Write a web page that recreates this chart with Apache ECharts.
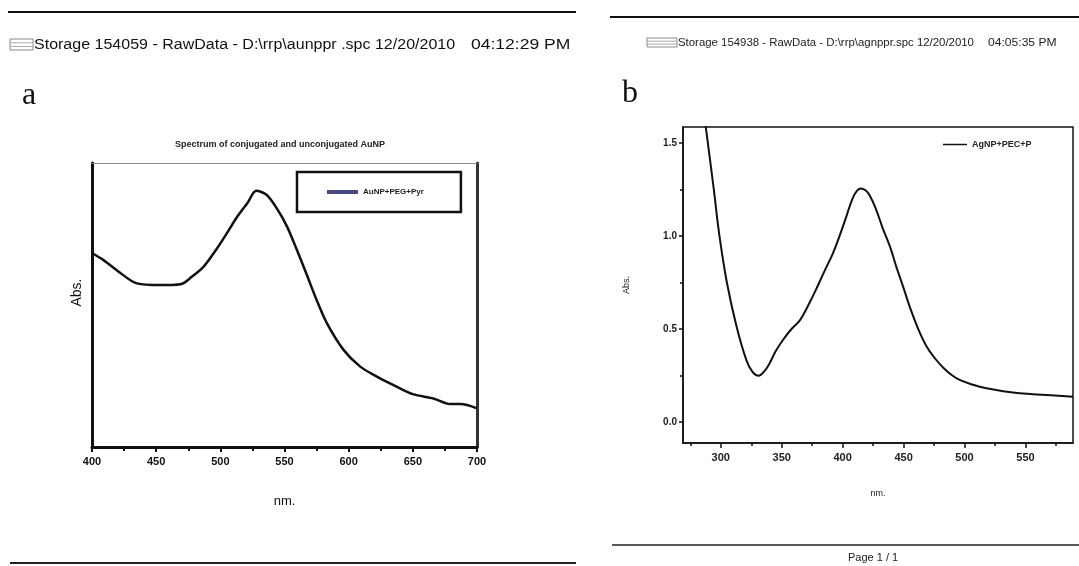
<!DOCTYPE html>
<html><head><meta charset="utf-8">
<script src="https://cdn.jsdelivr.net/npm/echarts@6/dist/echarts.min.js"></script>
<style>html,body{margin:0;padding:0;background:#fff}#c{width:1079px;height:566px}</style>
</head><body><div id="c"></div>
<script>
// Panel a: AuNP+PEG+Pyr (no y tick values shown; relative absorbance)
const aWavelength = [400, 409, 420, 435, 453, 469, 478, 487, 496, 505, 513, 521, 528, 536, 544, 552, 560, 567, 575, 583, 596, 609, 622, 635, 650, 666, 679, 687, 700];
const aAbs = [0.683, 0.658, 0.62, 0.576, 0.570, 0.573, 0.60, 0.635, 0.69, 0.752, 0.81, 0.858, 0.902, 0.888, 0.84, 0.776, 0.69, 0.611, 0.518, 0.436, 0.342, 0.283, 0.248, 0.218, 0.186, 0.171, 0.151, 0.151, 0.136];
const aTicks = [400, 450, 500, 550, 600, 650, 700];
// Panel b: AgNP+PEC+P
const bWavelength = [284, 288, 294, 299, 305, 313, 321, 326, 331, 336, 340, 345, 351, 358, 365, 372, 378, 385, 392, 398, 403, 408, 412, 415, 419, 422, 427, 433, 439, 444, 450, 455, 462, 469, 476, 483, 490, 496, 507, 518, 532, 545, 567, 589];
const bAbs = [1.77, 1.57, 1.265, 0.996, 0.75, 0.512, 0.333, 0.27, 0.249, 0.275, 0.315, 0.38, 0.441, 0.50, 0.548, 0.63, 0.71, 0.81, 0.907, 1.01, 1.104, 1.2, 1.245, 1.256, 1.245, 1.22, 1.15, 1.04, 0.94, 0.835, 0.72, 0.62, 0.50, 0.405, 0.34, 0.289, 0.25, 0.226, 0.20, 0.181, 0.165, 0.154, 0.145, 0.136];
const bXTicks = [300, 350, 400, 450, 500, 550];
const bXMinor = [275, 325, 375, 425, 475, 525, 575];
const bYTicks = [0, 0.5, 1.0, 1.5];
const bYMinor = [0.25, 0.75, 1.25];

const seriesA = 'AuNP+PEG+Pyr';
const seriesB = 'AgNP+PEC+P';
const headerA1 = 'Storage 154059 - RawData - D:\\rrp\\aunppr .spc 12/20/2010';
const headerA2 = '04:12:29 PM';
const headerB1 = 'Storage 154938 - RawData - D:\\rrp\\agnppr.spc 12/20/2010';
const headerB2 = '04:05:35 PM';
const titleA = 'Spectrum of conjugated and unconjugated AuNP';

const FONT = 'Liberation Sans, Arial, sans-serif';
const chart = echarts.init(document.getElementById('c'));

function icon(x, y, w, h) {
  return [
    {type:'rect', shape:{x:x, y:y, width:w, height:h}, style:{fill:'none', stroke:'#888', lineWidth:1}},
    {type:'line', shape:{x1:x, y1:y+h*0.35, x2:x+w, y2:y+h*0.35}, style:{stroke:'#aaa', lineWidth:1}},
    {type:'line', shape:{x1:x, y1:y+h*0.68, x2:x+w, y2:y+h*0.68}, style:{stroke:'#aaa', lineWidth:1}}
  ];
}
function htext(x, y, sx, text, size, color) {
  return {type:'text', x:x, y:y, scaleX:sx,
    style:{text:text, font: size + 'px ' + FONT, fill:color, verticalAlign:'middle', textVerticalAlign:'middle'}};
}

chart.setOption({
  backgroundColor: '#fff',
  animation: false,
  title: [{
    text: titleA, left: 275, top: 135, textAlign: 'center',
    textStyle: {fontFamily: FONT, fontSize: 9, fontWeight: 'bold', color: '#222'}
  }],
  legend: [{
    data: [{name: seriesA, itemStyle: {color: '#4a4a82'}}],
    left: 297, top: 172, orient: 'horizontal',
    icon: 'rect', itemWidth: 31, itemHeight: 4, itemGap: 0,
    padding: [16, 37, 16, 30],
    borderColor: '#111', borderWidth: 2.5,
    textStyle: {fontFamily: FONT, fontSize: 8, fontWeight: 'bold', color: '#222'}
  }, {
    data: [{name: seriesB, itemStyle: {color: '#111'}}],
    left: 943, top: 140, icon: 'rect', itemWidth: 24, itemHeight: 1.5,
    padding: 0,
    textStyle: {fontFamily: FONT, fontSize: 9, fontWeight: 'bold', color: '#222'}
  }],
  grid: [
    {left: 92, top: 163, width: 385, height: 284},
    {left: 683, top: 127, width: 390, height: 316, show: true, borderColor: '#111', borderWidth: 1.5}
  ],
  xAxis: [
    {gridIndex: 0, type: 'value', min: 400, max: 700, interval: 50, position: 'bottom',
     axisLine: {onZero: false, lineStyle: {color: '#111', width: 3}},
     axisTick: {show: true, length: 5, lineStyle: {color: '#111', width: 2}},
     minorTick: {show: true, splitNumber: 2, length: 4, lineStyle: {color: '#111', width: 2}},
     splitLine: {show: false}, minorSplitLine: {show: false},
     axisLabel: {fontFamily: FONT, fontSize: 11, fontWeight: 'bold', color: '#111', margin: 9},
     name: 'nm.', nameLocation: 'middle', nameGap: 48,
     nameTextStyle: {fontFamily: FONT, fontSize: 13, color: '#111'}},
    {gridIndex: 0, type: 'value', min: 400, max: 700, position: 'top',
     axisLine: {show: true, onZero: false, lineStyle: {color: '#888', width: 1}},
     axisTick: {show: false}, axisLabel: {show: false}, splitLine: {show: false}},
    {gridIndex: 1, type: 'value', min: 269, max: 589, position: 'bottom',
     axisLine: {show: true, onZero: false, lineStyle: {color: '#111', width: 1.5}},
     axisTick: {show: true, length: 5, customValues: bXTicks, lineStyle: {color: '#111', width: 1.5}},
     axisLabel: {customValues: bXTicks, fontFamily: FONT, fontSize: 11, fontWeight: 'bold', color: '#222', margin: 9},
     splitLine: {show: false},
     name: 'nm.', nameLocation: 'middle', nameGap: 46,
     nameTextStyle: {fontFamily: FONT, fontSize: 9, color: '#222'}},
    {gridIndex: 1, type: 'value', min: 269, max: 589, position: 'bottom',
     axisLine: {show: false, onZero: false},
     axisTick: {show: true, length: 3, customValues: bXMinor, lineStyle: {color: '#111', width: 1.5}},
     axisLabel: {show: false}, splitLine: {show: false}}
  ],
  yAxis: [
    {gridIndex: 0, type: 'value', min: 0, max: 1, position: 'left',
     axisLine: {show: true, onZero: false, lineStyle: {color: '#111', width: 3}},
     axisTick: {show: false}, axisLabel: {show: false}, splitLine: {show: false},
     name: 'Abs.', nameLocation: 'middle', nameGap: 8, nameRotate: 90,
     nameTextStyle: {fontFamily: FONT, fontSize: 14, color: '#111', padding: [0, 0, 0, 25]}},
    {gridIndex: 0, type: 'value', min: 0, max: 1, position: 'right',
     axisLine: {show: true, onZero: false, lineStyle: {color: '#333', width: 3}},
     axisTick: {show: false}, axisLabel: {show: false}, splitLine: {show: false}},
    {gridIndex: 1, type: 'value', min: -0.113, max: 1.586, position: 'left',
     axisLine: {show: true, onZero: false, lineStyle: {color: '#111', width: 1.5}},
     axisTick: {show: true, length: 4, customValues: bYTicks, lineStyle: {color: '#111', width: 1.5}},
     axisLabel: {customValues: bYTicks, formatter: v => v.toFixed(1), fontFamily: FONT, fontSize: 10, fontWeight: 'bold', color: '#222', margin: 6},
     splitLine: {show: false},
     name: 'Abs.', nameLocation: 'middle', nameGap: 52, nameRotate: 90,
     nameTextStyle: {fontFamily: FONT, fontSize: 9, color: '#222'}},
    {gridIndex: 1, type: 'value', min: -0.113, max: 1.586, position: 'left',
     axisLine: {show: false, onZero: false},
     axisTick: {show: true, length: 3, customValues: bYMinor, lineStyle: {color: '#111', width: 1.5}},
     axisLabel: {show: false}, splitLine: {show: false}}
  ],
  series: [
    {name: seriesA, type: 'line', xAxisIndex: 0, yAxisIndex: 0,
     data: aWavelength.map((w, i) => [w, aAbs[i]]),
     smooth: 0.3, showSymbol: false, lineStyle: {color: '#111', width: 2.5}, itemStyle: {color: '#4a4a82'}},
    {name: seriesB, type: 'line', xAxisIndex: 2, yAxisIndex: 2,
     data: bWavelength.map((w, i) => [w, bAbs[i]]),
     smooth: 0.4, showSymbol: false, clip: true,
     lineStyle: {color: '#111', width: 2}, itemStyle: {color: '#111'}}
  ],
  graphic: [
    {type: 'line', shape: {x1: 8, y1: 12, x2: 576, y2: 12}, style: {stroke: '#111', lineWidth: 2}},
    ...icon(10, 39, 23, 11),
    htext(34, 45, 1.144, headerA1, 14, '#111'),
    htext(471, 45, 1.25, headerA2, 14, '#111'),
    {type: 'text', left: 22, top: 80, style: {text: 'a', font: '32px "Liberation Serif", serif', fill: '#111'}},
    {type: 'line', shape: {x1: 10, y1: 563, x2: 576, y2: 563}, style: {stroke: '#222', lineWidth: 2}},
    {type: 'line', shape: {x1: 610, y1: 17, x2: 1079, y2: 17}, style: {stroke: '#111', lineWidth: 2}},
    ...icon(647, 38, 30, 9),
    htext(678, 43, 1.14, headerB1, 10, '#222'),
    htext(988, 43, 1.21, headerB2, 10, '#222'),
    {type: 'text', left: 622, top: 78, style: {text: 'b', font: '32px "Liberation Serif", serif', fill: '#111'}},
    {type: 'line', shape: {x1: 612, y1: 545, x2: 1079, y2: 545}, style: {stroke: '#222', lineWidth: 1.5}},
    {type: 'text', left: 848, top: 552, style: {text: 'Page 1 / 1', font: '11px ' + FONT, fill: '#222'}}
  ]
});
</script></body></html>
